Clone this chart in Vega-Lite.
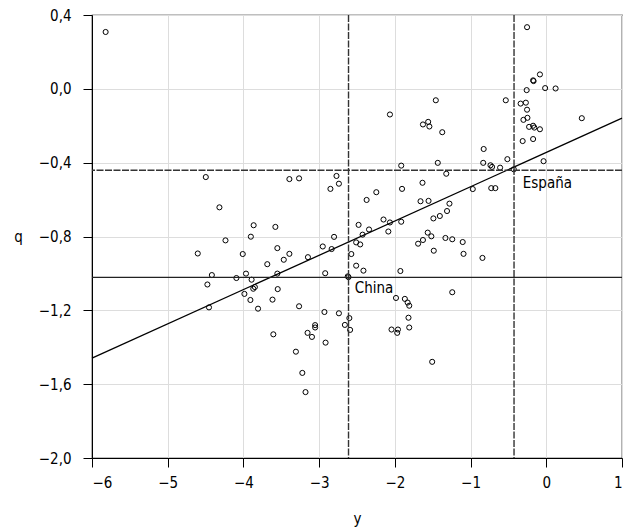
{
  "$schema": "https://vega.github.io/schema/vega-lite/v6.json",
  "width": 530,
  "height": 443,
  "autosize": {"type": "none"},
  "padding": {"left": 92, "top": 15, "right": 8, "bottom": 70},
  "background": "white",
  "config": {
    "view": {"stroke": "black", "strokeWidth": 1.2},
    "font": "DejaVu Sans Condensed, Roboto, sans-serif",
    "axis": {
      "labelFont": "DejaVu Sans Condensed, Roboto, sans-serif",
      "titleFont": "DejaVu Sans Condensed, Roboto, sans-serif",
      "labelFontSize": 15,
      "titleFontSize": 15,
      "titleFontWeight": "normal",
      "labelColor": "black",
      "titleColor": "black",
      "domainColor": "black",
      "tickColor": "black",
      "tickSize": 9,
      "gridColor": "#dddddd",
      "gridWidth": 1
    }
  },
  "datasets": {
    "pts": [
      {"y": -5.82, "q": 0.308},
      {"y": -0.254, "q": 0.334},
      {"y": -0.084, "q": 0.078},
      {"y": -0.174, "q": 0.046},
      {"y": -0.168, "q": 0.042},
      {"y": -0.015, "q": 0.004},
      {"y": 0.123, "q": 0.002},
      {"y": -0.259, "q": -0.007},
      {"y": -0.535, "q": -0.062},
      {"y": -0.339, "q": -0.08},
      {"y": -0.27, "q": -0.075},
      {"y": -0.254, "q": -0.113},
      {"y": -0.302, "q": -0.168},
      {"y": -0.249, "q": -0.157},
      {"y": -0.227, "q": -0.206},
      {"y": -0.174, "q": -0.2},
      {"y": -0.158, "q": -0.21},
      {"y": -0.084, "q": -0.219},
      {"y": 0.469, "q": -0.159},
      {"y": -0.174, "q": -0.272},
      {"y": -0.312, "q": -0.283},
      {"y": -0.036, "q": -0.392},
      {"y": -0.514, "q": -0.381},
      {"y": -0.61, "q": -0.427},
      {"y": -0.716, "q": -0.423},
      {"y": -0.737, "q": -0.414},
      {"y": -0.833, "q": -0.401},
      {"y": -0.827, "q": -0.326},
      {"y": -0.429, "q": -0.436},
      {"y": -0.971, "q": -0.543},
      {"y": -0.727, "q": -0.538},
      {"y": -0.673, "q": -0.538},
      {"y": -1.459, "q": -0.062},
      {"y": -2.065, "q": -0.139},
      {"y": -1.56, "q": -0.179},
      {"y": -1.629, "q": -0.193},
      {"y": -1.544, "q": -0.204},
      {"y": -1.374, "q": -0.235},
      {"y": -1.433, "q": -0.401},
      {"y": -1.916, "q": -0.416},
      {"y": -1.321, "q": -0.46},
      {"y": -1.905, "q": -0.542},
      {"y": -1.635, "q": -0.509},
      {"y": -2.245, "q": -0.56},
      {"y": -2.373, "q": -0.602},
      {"y": -1.661, "q": -0.609},
      {"y": -1.555, "q": -0.607},
      {"y": -1.279, "q": -0.622},
      {"y": -1.311, "q": -0.662},
      {"y": -1.406, "q": -0.689},
      {"y": -1.491, "q": -0.702},
      {"y": -2.15, "q": -0.708},
      {"y": -2.065, "q": -0.724},
      {"y": -1.916, "q": -0.72},
      {"y": -2.086, "q": -0.773},
      {"y": -1.566, "q": -0.779},
      {"y": -1.518, "q": -0.799},
      {"y": -1.693, "q": -0.839},
      {"y": -1.629, "q": -0.819},
      {"y": -1.332, "q": -0.808},
      {"y": -1.242, "q": -0.815},
      {"y": -1.104, "q": -0.83},
      {"y": -1.093, "q": -0.894},
      {"y": -1.486, "q": -0.877},
      {"y": -0.843, "q": -0.916},
      {"y": -1.927, "q": -0.987},
      {"y": -1.242, "q": -1.102},
      {"y": -1.985, "q": -1.133},
      {"y": -1.868, "q": -1.138},
      {"y": -1.831, "q": -1.158},
      {"y": -1.81, "q": -1.175},
      {"y": -1.82, "q": -1.24},
      {"y": -1.81, "q": -1.293},
      {"y": -2.044, "q": -1.304},
      {"y": -1.959, "q": -1.304},
      {"y": -1.969, "q": -1.322},
      {"y": -1.507, "q": -1.479},
      {"y": -2.511, "q": -0.832},
      {"y": -2.458, "q": -0.843},
      {"y": -2.479, "q": -0.737},
      {"y": -2.341, "q": -0.762},
      {"y": -2.426, "q": -0.79},
      {"y": -2.575, "q": -0.895},
      {"y": -2.511, "q": -0.958},
      {"y": -2.415, "q": -0.985},
      {"y": -2.622, "q": -1.016},
      {"y": -2.612, "q": -1.02},
      {"y": -2.601, "q": -1.242},
      {"y": -2.591, "q": -1.306},
      {"y": -2.66, "q": -1.279},
      {"y": -2.739, "q": -1.216},
      {"y": -2.93, "q": -1.209},
      {"y": -2.915, "q": -1.375},
      {"y": -3.095, "q": -1.344},
      {"y": -3.153, "q": -1.322},
      {"y": -3.053, "q": -1.293},
      {"y": -3.053, "q": -1.28},
      {"y": -3.265, "q": -1.178},
      {"y": -3.307, "q": -1.424},
      {"y": -3.222, "q": -1.539},
      {"y": -3.18, "q": -1.643},
      {"y": -3.605, "q": -1.33},
      {"y": -3.616, "q": -1.142},
      {"y": -3.547, "q": -1.085},
      {"y": -3.807, "q": -1.191},
      {"y": -3.908, "q": -1.144},
      {"y": -3.987, "q": -1.111},
      {"y": -3.87, "q": -1.083},
      {"y": -3.849, "q": -1.074},
      {"y": -3.892, "q": -1.034},
      {"y": -3.966, "q": -1.001},
      {"y": -4.093, "q": -1.025},
      {"y": -4.417, "q": -1.009},
      {"y": -4.476, "q": -1.06},
      {"y": -4.455, "q": -1.184},
      {"y": -4.603, "q": -0.892},
      {"y": -4.237, "q": -0.821},
      {"y": -4.317, "q": -0.642},
      {"y": -4.497, "q": -0.478},
      {"y": -3.393, "q": -0.489},
      {"y": -3.265, "q": -0.485},
      {"y": -2.771, "q": -0.472},
      {"y": -2.739, "q": -0.514},
      {"y": -2.851, "q": -0.542},
      {"y": -3.865, "q": -0.739},
      {"y": -3.578, "q": -0.748},
      {"y": -3.902, "q": -0.801},
      {"y": -2.803, "q": -0.802},
      {"y": -2.835, "q": -0.868},
      {"y": -2.952, "q": -0.854},
      {"y": -3.552, "q": -0.863},
      {"y": -3.393, "q": -0.894},
      {"y": -4.009, "q": -0.895},
      {"y": -3.148, "q": -0.912},
      {"y": -3.467, "q": -0.926},
      {"y": -3.685, "q": -0.95},
      {"y": -3.552, "q": -1.001},
      {"y": -2.92, "q": -0.999}
    ]
  },
  "layer": [
    {
      "data": {"name": "pts"},
      "mark": {"type": "point", "shape": "circle", "filled": false, "stroke": "black", "strokeWidth": 1, "size": 26, "opacity": 1},
      "encoding": {
        "x": {"field": "y", "type": "quantitative", "scale": {"domain": [-6, 1], "nice": false, "zero": false},
          "axis": {"values": [-6, -5, -4, -3, -2, -1, 0, 1], "format": "d", "title": "y", "labelPadding": 8, "titleY": 60, "titleBaseline": "middle"}},
        "y": {"field": "q", "type": "quantitative", "scale": {"domain": [-2, 0.4], "nice": false, "zero": false},
          "axis": {"values": [-2, -1.6, -1.2, -0.8, -0.4, 0, 0.4], "labelExpr": "replace(format(datum.value, '.1f'), '.', ',')", "title": "q", "titleAngle": 0, "titleX": -74, "titleY": 221, "titleBaseline": "middle", "titleAlign": "center", "labelPadding": 12}}
      }
    },
    {
      "data": {"values": [{"y": -6, "q": -1.459}, {"y": 1, "q": -0.159}]},
      "mark": {"type": "line", "color": "black", "strokeWidth": 1.3},
      "encoding": {
        "x": {"field": "y", "type": "quantitative"},
        "y": {"field": "q", "type": "quantitative"}
      }
    },
    {
      "data": {"values": [{"y": -2.612}, {"y": -0.426}]},
      "mark": {"type": "rule", "color": "#333333", "strokeWidth": 1.4, "strokeDash": [7, 1.5]},
      "encoding": {"x": {"field": "y", "type": "quantitative"}}
    },
    {
      "data": {"values": [{"q": -0.441}]},
      "mark": {"type": "rule", "color": "#333333", "strokeWidth": 1.4, "strokeDash": [7, 1.5]},
      "encoding": {"y": {"field": "q", "type": "quantitative"}}
    },
    {
      "data": {"values": [{"q": -1.021}]},
      "mark": {"type": "rule", "color": "#222222", "strokeWidth": 1.2},
      "encoding": {"y": {"field": "q", "type": "quantitative"}}
    },
    {
      "data": {"values": [{"y": -2.53, "q": -1.077, "label": "China"}, {"y": -0.31, "q": -0.512, "label": "España"}]},
      "mark": {"type": "text", "align": "left", "baseline": "middle", "fontSize": 15, "font": "DejaVu Sans Condensed, Roboto, sans-serif", "color": "black"},
      "encoding": {
        "x": {"field": "y", "type": "quantitative"},
        "y": {"field": "q", "type": "quantitative"},
        "text": {"field": "label"}
      }
    }
  ]
}
